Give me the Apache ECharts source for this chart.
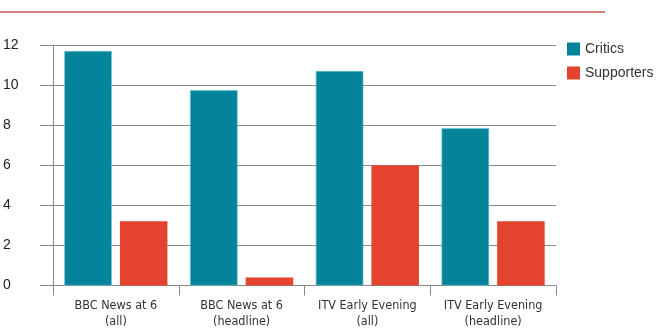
<!DOCTYPE html>
<html>
<head>
<meta charset="utf-8">
<script src="https://cdn.jsdelivr.net/npm/echarts@6/dist/echarts.min.js"></script>
<style>
  html, body { margin: 0; padding: 0; background: #fff; }
  #chart { width: 665px; height: 334px; }
</style>
</head>
<body>
<div id="chart"></div>
<script>
const categories = ['BBC News at 6\n(all)', 'BBC News at 6\n(headline)', 'ITV Early Evening\n(all)', 'ITV Early Evening\n(headline)'];
const critics = [11.7, 9.75, 10.7, 7.85];
const supporters = [3.2, 0.4, 6.0, 3.2];
const yTicks = [0, 2, 4, 6, 8, 10, 12];

document.addEventListener('DOMContentLoaded', function(){
  var chart = echarts.init(document.getElementById('chart'));
  var gridGrey = '#8a8a8a';

  chart.setOption({
    backgroundColor: '#fff',
    animation: false,
    // red rule under the (cropped) headline
    graphic: [{
      type: 'line',
      shape: { x1: 0, y1: 12, x2: 605, y2: 12 },
      style: { stroke: '#c9574c', lineWidth: 1.5 }
    }],
    legend: {
      orient: 'vertical',
      left: 567,
      top: 42,
      padding: 0,
      itemWidth: 13,
      itemHeight: 13,
      itemGap: 10,
      icon: 'rect',
      itemStyle: { borderWidth: 0 },
      textStyle: { color: '#333', fontSize: 14, fontFamily: '"Liberation Sans", Arial, sans-serif' },
      data: ['Critics', 'Supporters']
    },
    grid: { left: 53, right: 109, top: 45, bottom: 48.5, containLabel: false, outerBoundsMode: 'none' },
    xAxis: {
      type: 'category',
      data: categories,
      axisLine: { lineStyle: { color: gridGrey, width: 1 } },
      axisTick: { show: true, length: 10, lineStyle: { color: gridGrey } },
      axisLabel: {
        interval: 0,
        color: '#333',
        fontSize: 12.5,
        lineHeight: 16,
        margin: 12,
        fontFamily: '"Liberation Sans Narrow", "DejaVu Sans Condensed", sans-serif'
      }
    },
    yAxis: {
      type: 'value',
      min: 0,
      max: 12,
      interval: 2,
      axisLine: { show: true, lineStyle: { color: gridGrey, width: 1 } },
      axisTick: { show: true, length: 13, lineStyle: { color: gridGrey } },
      splitLine: { show: true, lineStyle: { color: gridGrey, width: 1 } },
      axisLabel: {
        color: '#222',
        fontSize: 14,
        align: 'left',
        margin: 50,
        fontFamily: '"Liberation Sans", Arial, sans-serif',
        formatter: function(v){ return yTicks.indexOf(v) >= 0 ? String(v) : ''; }
      }
    },
    series: [
      {
        name: 'Critics',
        type: 'bar',
        data: critics,
        barWidth: '37.8%',
        barGap: '17%',
        itemStyle: { color: '#04849a', borderColor: '#6cc6d4', borderWidth: 0.6 }
      },
      {
        name: 'Supporters',
        type: 'bar',
        data: supporters,
        barWidth: '37.8%',
        itemStyle: { color: '#e4442f' }
      }
    ]
  });

  window.addEventListener('resize', function(){ chart.resize(); });
});
</script>
</body>
</html>
